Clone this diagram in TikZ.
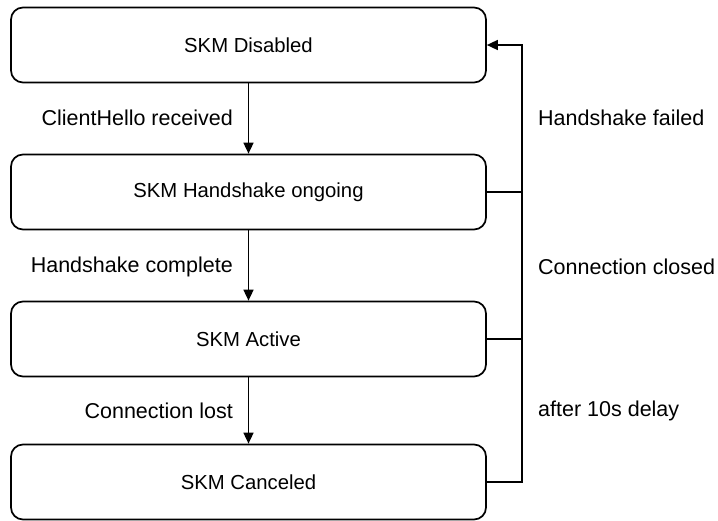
\documentclass[tikz,border=0pt]{standalone}
\usepackage{fontspec}
\setmainfont{Liberation Sans}
\usetikzlibrary{arrows.meta}
\begin{document}
\begin{tikzpicture}[x=1pt,y=-1pt,
  state/.style={draw, line width=1.7pt, rounded corners=12pt,
    minimum width=475pt, minimum height=75pt, inner sep=0pt,
    font=\fontsize{20.3}{23}\selectfont},
  lbl/.style={font=\fontsize{21.5}{24}\selectfont, inner sep=0pt},
  conn/.style={line width=1.6pt},
  arr/.style={conn, -{Triangle[length=11pt,width=10pt]}}]
\useasboundingbox (0,0) rectangle (718,520);

% states
\node[state] (dis) at (248.5,45)  {SKM Disabled};
\node[state] (hs)  at (248.5,192) {SKM Handshake ongoing};
\node[state] (act) at (248.5,339) {SKM Active};
\node[state] (can) at (248.5,482) {SKM Canceled};

% forward transitions
\draw[arr] (dis.south) -- (hs.north);
\draw[arr] (hs.south) -- (act.north);
\draw[arr] (act.south) -- (can.north);

% transition labels, left side
\node[lbl, anchor=east] (l1) at (233,118) {ClientHello received};
\node[lbl, anchor=east] (l2) at (233,267) {Handshake complete};
\node[lbl, anchor=east] (l3) at (233,411) {Connection lost};

% return rail back to the disabled state
\coordinate (rail) at (522,45);
\draw[arr] (can.east) -| (rail) -- (dis.east);
\draw[conn] (hs.east) -- (hs.east -| rail);
\draw[conn] (act.east) -- (act.east -| rail);

% transition labels, right side
\node[lbl, anchor=west] (r1) at (538,118) {Handshake failed};
\node[lbl, anchor=west] (r2) at (538,267) {Connection closed};
\node[lbl, anchor=west] (r3) at (538,411) {after 10s delay};
\end{tikzpicture}
\end{document}
